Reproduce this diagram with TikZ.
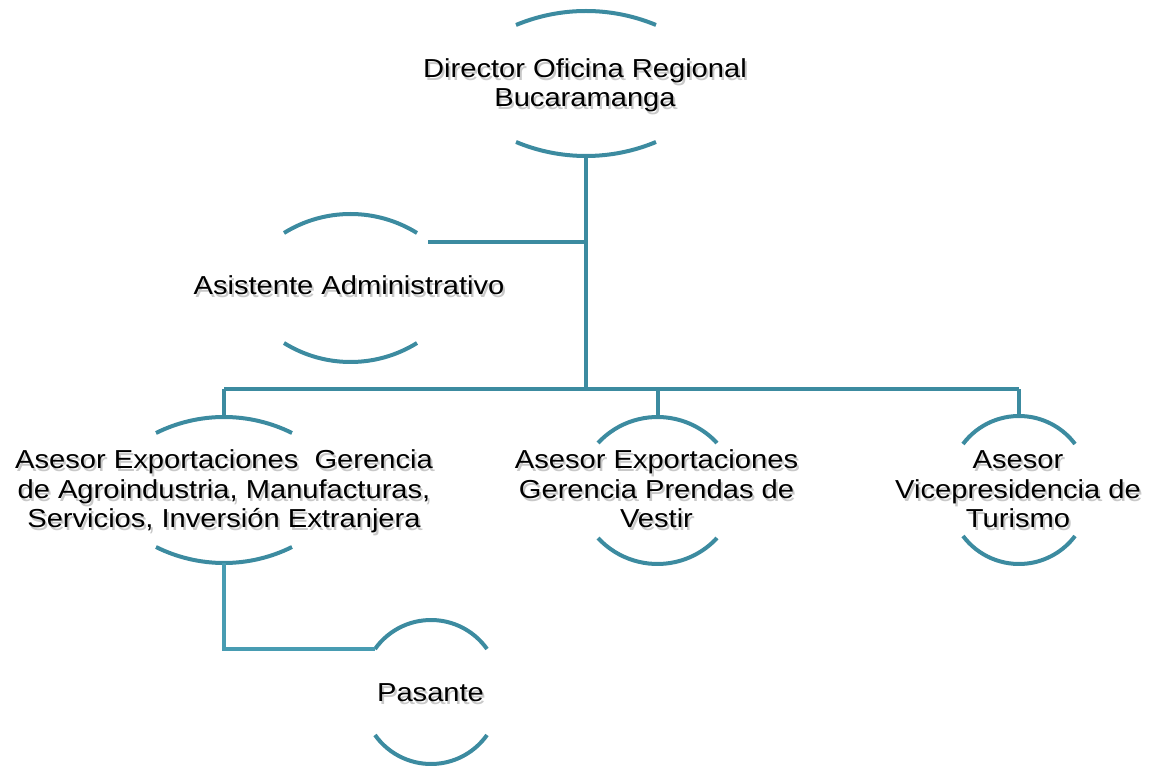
\documentclass[tikz,border=0pt]{standalone}
\usepackage{fontspec}
\setmainfont{Liberation Sans}[FakeStretch=1.12]
\usetikzlibrary{calc}
\definecolor{tealA}{RGB}{60,139,160}
\definecolor{tealB}{RGB}{72,156,178}
\definecolor{shade}{RGB}{200,200,200}
% two circular arcs (top and bottom) spanning the frame node #1, half-width #2, sagitta #3
\newcommand\nodearcs[3]{%
  \pgfmathsetmacro\arcR{(#2*#2+#3*#3)/(2*#3)}%
  \pgfmathsetmacro\arcA{asin(#2/\arcR)}%
  \draw[arcline] ($(#1.north west)+(0,-#3)$) arc[start angle=90+\arcA, end angle=90-\arcA, radius=\arcR pt];
  \draw[arcline] ($(#1.south west)+(0,#3)$) arc[start angle=270-\arcA, end angle=270+\arcA, radius=\arcR pt];}
\newcommand\tabtext[1]{\begin{tabular}{@{}c@{}}#1\end{tabular}}
\newcommand\shtext[1]{\makebox[0pt][l]{\hspace*{2pt}\raisebox{-3pt}[0pt][0pt]{\color{shade}\tabtext{#1}}}\tabtext{#1}}
\begin{document}
\begin{tikzpicture}[x=1pt,y=1pt,
  frame/.style={inner sep=0pt, outer sep=0pt, draw=none},
  arcline/.style={draw=tealA, line width=4pt},
  conn/.style={draw=tealA, line width=4pt, line join=miter},
  connB/.style={draw=tealB, line width=4pt, line join=miter},
  txt/.style={inner sep=0pt, font=\fontsize{26}{29.5}\selectfont, text=black}]
\useasboundingbox (0,0) rectangle (1153,766);

% shape frames (arc bounding boxes)
\node[frame, minimum width=140pt, minimum height=145pt] (dir)  at (586,682.5) {};
\node[frame, minimum width=133pt, minimum height=148pt] (asis) at (350.5,478) {};
\node[frame, minimum width=136pt, minimum height=146pt] (agro) at (224,276) {};
\node[frame, minimum width=119pt, minimum height=147pt] (pren) at (657.5,275.5) {};
\node[frame, minimum width=112pt, minimum height=148pt] (tur)  at (1019,276) {};
\node[frame, minimum width=112pt, minimum height=144pt] (pas)  at (431,74) {};

% arcs
\nodearcs{dir}{70}{14}
\nodearcs{asis}{66.5}{19}
\nodearcs{agro}{68}{16}
\nodearcs{pren}{59.5}{26}
\nodearcs{tur}{56}{28}
\nodearcs{pas}{56}{29}

% connectors
\coordinate (bus) at (586,377);
\coordinate (asisIn) at (428,524);
\coordinate (pasL) at ($(pas.north west)+(0,-29)$);
\draw[conn] (dir.south) -- (bus);
\draw[conn] (asisIn) -- (asisIn -| dir.south);
\draw[conn] (agro.north |- bus) -- (tur.north |- bus);
\draw[conn] (agro.north) -- (agro.north |- bus);
\draw[conn] (pren.north) -- (pren.north |- bus);
\draw[conn] (tur.north) -- (tur.north |- bus);
\draw[connB] (agro.south) |- (pasL);

% texts
\node[txt] (dirT)  at (585,680)   {\shtext{Director Oficina Regional\\Bucaramanga}};
\node[txt] (asisT) at (349,477)   {\shtext{Asistente Administrativo}};
\node[txt] (agroT) at (224,273.5) {\shtext{Asesor Exportaciones~ Gerencia\\de Agroindustria, Manufacturas,\\Servicios, Inversión Extranjera}};
\node[txt] (prenT) at (656.5,273.5) {\shtext{Asesor Exportaciones\\Gerencia Prendas de\\Vestir}};
\node[txt] (turT)  at (1018,273.5) {\shtext{Asesor\\Vicepresidencia de\\Turismo}};
\node[txt] (pasT)  at (430.5,70)  {\shtext{Pasante}};
\end{tikzpicture}
\end{document}
